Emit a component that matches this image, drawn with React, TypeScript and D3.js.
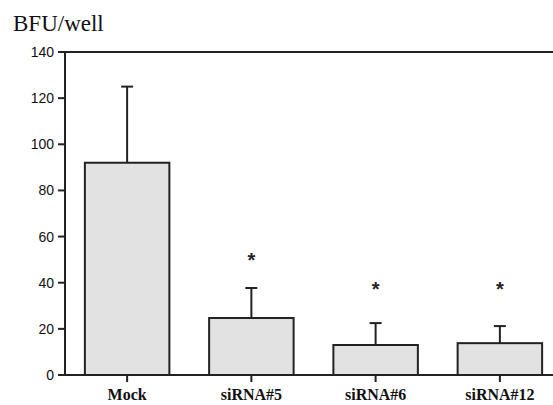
import React from "react";
import * as d3 from "d3";

const categories = ["Mock", "siRNA#5", "siRNA#6", "siRNA#12"];
const means = [92, 24.7, 13, 13.8];
const errors = [33, 13, 9.5, 7.4];
const significant = [false, true, true, true];
const starValues = [0, 50.5, 38, 38];
const yTicks = [0, 20, 40, 60, 80, 100, 120, 140];

const W = 553;
const H = 405;
const left = 65;
const top = 52;
const bottom = 375;

export default function App() {
  const y = d3.scaleLinear().domain([0, 140]).range([bottom, top]);
  const x = d3
    .scaleBand<string>()
    .domain(categories)
    .range([left, 562])
    .paddingInner(0.32)
    .paddingOuter(0.16);
  const bw = x.bandwidth();
  return (
    <svg
      width={W}
      height={H}
      style={{ position: "absolute", left: 0, top: 0, background: "#fff" }}
    >
      <text
        x={13}
        y={31}
        fontFamily="'Liberation Serif', 'Times New Roman', serif"
        fontSize={23}
        fill="#111"
      >
        BFU/well
      </text>
      {categories.map((c, i) => (
        <g key={c}>
          <line
            x1={x(c)! + bw / 2}
            x2={x(c)! + bw / 2}
            y1={y(means[i])}
            y2={y(means[i] + errors[i])}
            stroke="#222"
            strokeWidth={2}
          />
          <line
            x1={x(c)! + bw / 2 - 6}
            x2={x(c)! + bw / 2 + 6}
            y1={y(means[i] + errors[i])}
            y2={y(means[i] + errors[i])}
            stroke="#222"
            strokeWidth={2}
          />
          <rect
            x={x(c)}
            y={y(means[i])}
            width={bw}
            height={y(0) - y(means[i])}
            fill="#e2e2e2"
            stroke="#222"
            strokeWidth={2}
          />
          {significant[i] && (
            <text
              x={x(c)! + bw / 2}
              y={y(starValues[i]) + 9}
              textAnchor="middle"
              fontFamily="'Liberation Sans', Arial, sans-serif"
              fontWeight="bold"
              fontSize={20}
              fill="#222"
            >
              *
            </text>
          )}
          <line
            x1={x(c)! + bw / 2}
            x2={x(c)! + bw / 2}
            y1={bottom}
            y2={bottom + 7}
            stroke="#222"
            strokeWidth={2}
          />
          <text
            x={x(c)! + bw / 2}
            y={400}
            textAnchor="middle"
            fontFamily="'Liberation Serif', 'Times New Roman', serif"
            fontWeight="bold"
            fontSize={16}
            fill="#111"
          >
            {c}
          </text>
        </g>
      ))}
      <line x1={left} x2={W} y1={top} y2={top} stroke="#222" strokeWidth={2} />
      <line x1={left - 7} x2={W} y1={bottom} y2={bottom} stroke="#222" strokeWidth={2} />
      <line x1={left} x2={left} y1={top} y2={bottom} stroke="#222" strokeWidth={2} />
      {yTicks.map((t) => (
        <g key={t}>
          <line
            x1={left - 7}
            x2={left}
            y1={y(t)}
            y2={y(t)}
            stroke="#222"
            strokeWidth={2}
          />
          <text
            x={left - 11}
            y={y(t) + 5}
            textAnchor="end"
            fontFamily="'Liberation Sans', Arial, sans-serif"
            fontSize={14}
            fill="#111"
          >
            {t}
          </text>
        </g>
      ))}
    </svg>
  );
}
